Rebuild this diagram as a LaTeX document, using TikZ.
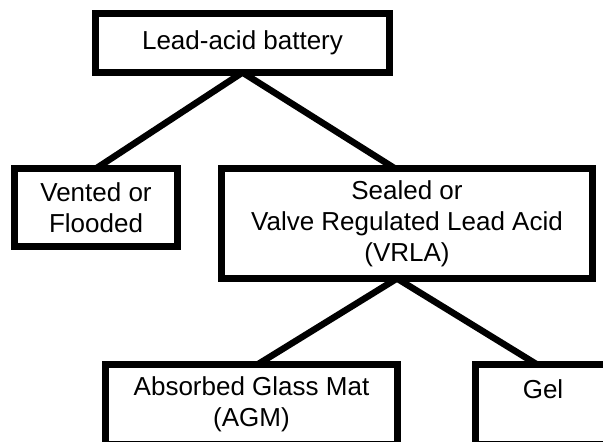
\documentclass[tikz,border=0pt]{standalone}
\usepackage{fontspec}
\setmainfont{Liberation Sans}
\usetikzlibrary{positioning}

\begin{document}
\begin{tikzpicture}[
	x = 1pt, y = -1pt, % pixel grid, y pointing down
	line width = 6.5pt, % line style
	B/.style={rectangle, draw=black, inner sep=0pt, outer sep=0pt, align=center, font=\fontsize{26}{31}\selectfont}, % box
	]
	\useasboundingbox (0,0) rectangle (603,442);
	\clip (0,0) rectangle (603,442);

	% Nodes and their positions
	\node[B, minimum width=294pt, minimum height=59pt] (LA) at (242.5,43) {Lead-acid battery};
	\node[B, minimum width=163pt, minimum height=78pt] (VF) at (96,207.5) {Vented or\\Flooded};
	\node[B, minimum width=371pt, minimum height=110pt] (VRLA) at (407,223.5) {Sealed or\\Valve Regulated Lead Acid\\(VRLA)};
	\node[B, minimum width=292pt, minimum height=80pt] (AGM) at (251.5,404.5) {Absorbed Glass Mat\\(AGM)};
	\node[B, minimum width=135pt, minimum height=80pt] (GEL) at (543,404.5) {Gel\\~};

	% Paths connecting nodes
	\path (LA.south) edge (VF.north);
	\path (LA.south) edge ([xshift=-12pt]VRLA.north);
	\path ([xshift=-10pt]VRLA.south) edge ([xshift=6pt]AGM.north);
	\path ([xshift=-10pt]VRLA.south) edge ([xshift=-6pt]GEL.north);
\end{tikzpicture}
\end{document}
